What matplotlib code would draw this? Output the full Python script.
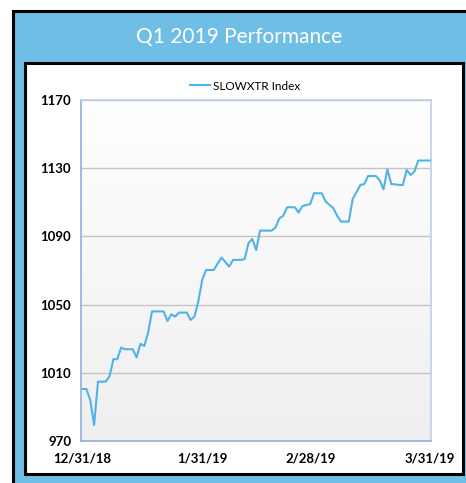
import numpy as np
import matplotlib
matplotlib.use('Agg')
import matplotlib.pyplot as plt
from matplotlib.patches import Rectangle
from matplotlib.colors import LinearSegmentedColormap

# calendar days since 12/31/18 (weekends/holidays carry the prior close)
DAYS = list(range(91))
VALUES = [
    1000.5, 1000.5, 994.0, 979.4, 1004.8, 1004.8, 1004.8, 1008.0, 1018.0, 1018.0,
    1024.8, 1023.8, 1023.8, 1023.8, 1019.0, 1027.0, 1025.7, 1033.6, 1046.0, 1046.0,
    1046.0, 1046.0, 1040.4, 1044.3, 1043.0, 1045.3, 1045.3, 1045.3, 1041.0, 1043.0,
    1051.8, 1064.4, 1070.3, 1070.3, 1070.3, 1074.0, 1077.6, 1075.0, 1072.3, 1076.2,
    1076.2, 1076.2, 1076.7, 1086.0, 1088.5, 1082.0, 1093.4, 1093.4, 1093.4, 1093.4,
    1095.2, 1100.6, 1102.0, 1107.1, 1107.1, 1107.1, 1104.0, 1107.8, 1108.4, 1109.0,
    1115.3, 1115.3, 1115.3, 1110.4, 1108.5, 1106.5, 1102.0, 1098.7, 1098.7, 1098.7,
    1111.8, 1116.0, 1120.2, 1120.7, 1125.4, 1125.4, 1125.4, 1123.0, 1117.6, 1129.4,
    1120.7, 1120.5, 1120.2, 1120.2, 1129.0, 1126.0, 1128.0, 1134.5, 1134.5, 1134.5,
    1134.5,
]
XTICKS = [0, 31, 59, 90]
XLABELS = ['12/31/18', '1/31/19', '2/28/19', '3/31/19']
YTICKS = [970, 1010, 1050, 1090, 1130, 1170]

W, H = 466, 483
BLUE = '#6EBEE6'
LINE = '#4FB3E8'

plt.rcParams['font.family'] = ['Lato', 'DejaVu Sans']

fig = plt.figure(figsize=(W / 100, H / 100), dpi=100)
fig.patch.set_facecolor('white')


def px_rect(x0, y0, x1, y1, **kw):
    # pixel box (top-left origin) -> figure rectangle
    return Rectangle((x0 / W, 1 - y1 / H), (x1 - x0) / W, (y1 - y0) / H,
                     transform=fig.transFigure, **kw)


fig.add_artist(px_rect(12.5, 10.5, 490, 500, facecolor=BLUE, edgecolor='black', lw=2.2, zorder=0))
fig.add_artist(px_rect(24.5, 63, 462.5, 473.5, facecolor='white', edgecolor='black', lw=2.2, zorder=1))
fig.text(239 / W, 1 - 37 / H, 'Q1 2019 Performance', color='white', fontsize=15,
         ha='center', va='center')

ax = fig.add_axes([81 / W, 1 - 441 / H, 350 / W, 341 / H])
ax.set_zorder(2)
cmap = LinearSegmentedColormap.from_list('bg', ['#EFEFEF', '#FFFFFF'])
ax.imshow(np.linspace(0, 1, 256)[:, None], extent=(0, 1, 0, 1), transform=ax.transAxes,
          aspect='auto', cmap=cmap, origin='lower', zorder=0)

ax.plot(DAYS, VALUES, color=LINE, lw=1.5, label='SLOWXTR Index', zorder=3)

ax.set_xlim(-0.4, 90.3)
ax.set_ylim(970, 1170)
ax.set_xticks(XTICKS)
ax.set_xticklabels(XLABELS)
ax.set_yticks(YTICKS)
ax.tick_params(length=0, labelsize=9.5, pad=7)
ax.tick_params(axis='x', pad=8)
for lab in ax.get_xticklabels() + ax.get_yticklabels():
    lab.set_fontweight('bold')
ax.grid(axis='y', color='#C4C4C4', lw=1)
ax.set_axisbelow(True)
for side in ['left', 'bottom']:
    ax.spines[side].set_color('#8FB0DA')
for side in ['top', 'right']:
    ax.spines[side].set_color('#BFD0E6')
for s in ax.spines.values():
    s.set_linewidth(1.2)

ax.legend(loc='center', bbox_to_anchor=(0.469, 1 + 14 / 341), frameon=False,
          fontsize=8.5, handlelength=1.7, handletextpad=0.3, borderpad=0)

fig.savefig('out.png', dpi=100)
